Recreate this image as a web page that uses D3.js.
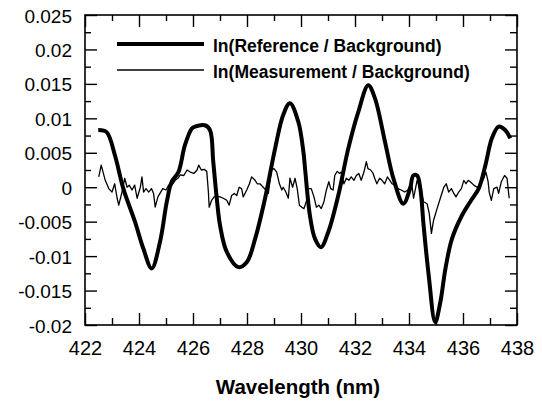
<!DOCTYPE html>
<html>
<head>
<meta charset="utf-8">
<script src="https://cdn.jsdelivr.net/npm/d3@7"></script>
<style>
  body { margin: 0; background: #fff; }
  svg { display: block; font-family: "Liberation Sans", Arial, Helvetica, sans-serif; }
  .tick-label text { font-size: 19px; fill: #000; }
  .x-label text { font-size: 20px; }
</style>
</head>
<body>
<svg id="chart" width="542" height="401"></svg>
<script>
// ln(Reference / Background), thick line
const refWavelength = [422.49, 422.80, 423.11, 423.42, 423.85, 424.16, 424.47, 424.78, 425.03, 425.21,
    425.46, 425.70, 425.95, 426.07, 426.44, 426.63, 426.75, 426.88, 427.00, 427.25,
    427.68, 427.99, 428.30, 428.67, 429.04, 429.34, 429.59, 429.90, 430.09, 430.15,
    430.33, 430.52, 430.74, 431.01, 431.38, 431.75, 432.12, 432.49, 432.74, 433.11,
    433.42, 433.79, 434.04, 434.16, 434.30, 434.42, 434.54, 434.73, 434.97, 435.16,
    435.35, 435.59, 435.96, 436.27, 436.58, 436.83, 437.07, 437.32, 437.56, 437.75];
const refValue = [0.0083, 0.0080, 0.0046, -0.0002, -0.0050, -0.0089, -0.0118, -0.0079, -0.0021, 0.0008,
    0.0022, 0.0061, 0.0085, 0.0088, 0.0090, 0.0083, 0.0037, -0.0016, -0.0055, -0.0094,
    -0.0116, -0.0109, -0.0075, -0.0016, 0.0056, 0.0105, 0.0122, 0.0095, 0.0051, 0.0027,
    -0.0041, -0.0075, -0.0087, -0.0065, -0.0012, 0.0056, 0.0109, 0.0148, 0.0129, 0.0066,
    0.0013, -0.0024, -0.0002, 0.0017, 0.0017, -0.0002, -0.0055, -0.0128, -0.0196, -0.0167,
    -0.0118, -0.0075, -0.0041, -0.0021, -0.0002, 0.0032, 0.0071, 0.0088, 0.0083, 0.0071];

// ln(Measurement / Background), thin line
const measWavelength = [422.51, 422.60, 422.75, 422.88, 423.00, 423.10, 423.19, 423.25, 423.37, 423.47,
    423.56, 423.64, 423.74, 423.84, 423.93, 424.05, 424.11, 424.17, 424.26, 424.36,
    424.46, 424.54, 424.60, 424.70, 424.88, 425.00, 425.10, 425.22, 425.34, 425.44,
    425.53, 425.66, 425.78, 425.90, 426.03, 426.15, 426.21, 426.31, 426.41, 426.51,
    426.57, 426.60, 426.69, 426.78, 426.88, 427.00, 427.12, 427.25, 427.34, 427.43,
    427.53, 427.62, 427.71, 427.80, 427.86, 427.99, 428.09, 428.17, 428.30, 428.38,
    428.48, 428.60, 428.70, 428.79, 428.85, 428.91, 429.00, 429.10, 429.20, 429.29,
    429.34, 429.44, 429.53, 429.59, 429.69, 429.78, 429.86, 429.94, 430.03, 430.11,
    430.21, 430.27, 430.38, 430.48, 430.57, 430.66, 430.75, 430.85, 430.94, 431.03,
    431.10, 431.19, 431.25, 431.34, 431.43, 431.49, 431.59, 431.68, 431.77, 431.86,
    431.96, 432.05, 432.14, 432.23, 432.33, 432.42, 432.48, 432.58, 432.67, 432.73,
    432.81, 432.91, 433.00, 433.10, 433.20, 433.29, 433.37, 433.47, 433.59, 433.71,
    433.84, 433.96, 434.09, 434.17, 434.30, 434.42, 434.54, 434.67, 434.75, 434.83,
    434.91, 435.04, 435.16, 435.29, 435.38, 435.47, 435.57, 435.66, 435.74, 435.84,
    435.94, 436.03, 436.11, 436.19, 436.27, 436.40, 436.52, 436.64, 436.77, 436.85,
    436.93, 436.97, 437.05, 437.14, 437.26, 437.32, 437.42, 437.54, 437.63, 437.71];
const measValue = [0.0015, 0.0032, 0.0010, -0.0002, -0.0007, 0.0005, -0.0016, -0.0026, -0.0007, 0.0013,
    0.0000, 0.0003, -0.0004, 0.0003, -0.0016, 0.0000, 0.0015, -0.0007, -0.0002, -0.0007,
    -0.0002, -0.0009, -0.0029, -0.0014, -0.0002, -0.0004, 0.0003, 0.0003, 0.0010, 0.0013,
    0.0018, 0.0017, 0.0025, 0.0022, 0.0020, 0.0025, 0.0032, 0.0025, 0.0026, 0.0023,
    -0.0007, -0.0029, -0.0019, -0.0014, -0.0013, -0.0014, -0.0016, -0.0019, -0.0026, -0.0012,
    -0.0009, -0.0012, 0.0000, -0.0002, -0.0014, -0.0004, 0.0005, 0.0015, 0.0010, 0.0005,
    0.0005, 0.0000, -0.0004, -0.0009, 0.0010, 0.0025, 0.0027, 0.0022, 0.0005, -0.0004,
    0.0000, -0.0007, -0.0016, 0.0013, 0.0000, 0.0013, -0.0002, -0.0026, -0.0029, -0.0031,
    -0.0019, -0.0002, -0.0002, -0.0014, -0.0029, -0.0026, -0.0031, -0.0021, -0.0004, 0.0008,
    -0.0002, -0.0004, 0.0017, 0.0023, 0.0020, 0.0022, 0.0005, 0.0013, 0.0010, 0.0015,
    0.0010, 0.0017, 0.0020, 0.0010, 0.0022, 0.0037, 0.0027, 0.0025, 0.0020, 0.0013,
    0.0005, 0.0013, 0.0010, 0.0005, 0.0015, 0.0010, 0.0005, 0.0003, -0.0002, -0.0004,
    -0.0007, -0.0004, 0.0008, -0.0016, 0.0010, -0.0002, -0.0021, -0.0024, -0.0038, -0.0067,
    -0.0048, -0.0031, -0.0016, 0.0000, 0.0005, -0.0007, -0.0002, -0.0009, -0.0014, -0.0007,
    -0.0002, 0.0010, 0.0005, 0.0010, 0.0008, 0.0003, 0.0000, 0.0003, 0.0013, 0.0022,
    0.0008, -0.0007, -0.0019, -0.0002, 0.0000, -0.0009, 0.0008, 0.0017, 0.0013, -0.0016];

const xTickValues = [422, 424, 426, 428, 430, 432, 434, 436, 438];
const xMinorTicks = [423, 425, 427, 429, 431, 433, 435, 437];
const yTickValues = [0.025, 0.02, 0.015, 0.01, 0.005, 0, -0.005, -0.01, -0.015, -0.02];
const yMinorTicks = [0.0225, 0.0175, 0.0125, 0.0075, 0.0025, -0.0025, -0.0075, -0.0125, -0.0175];
const seriesNames = ["ln(Reference / Background)", "ln(Measurement / Background)"];

const svg = d3.select("#chart");
const margin = { top: 15, right: 25, bottom: 76, left: 85 };
const width = +svg.attr("width") - margin.left - margin.right;
const height = +svg.attr("height") - margin.top - margin.bottom;

const x = d3.scaleLinear().domain([422, 438]).range([0, width]);
const y = d3.scaleLinear().domain([-0.02, 0.025]).range([height, 0]);

const g = svg.append("g").attr("transform", `translate(${margin.left},${margin.top})`);

// inward ticks on all four sides
function ticks(axis, values, size, transform) {
    const a = g.append("g").attr("transform", transform || null)
        .call(axis.tickValues(values).tickSize(-size).tickFormat(""));
    a.select(".domain").remove();
    a.selectAll("line").attr("stroke", "#000").attr("stroke-width", 1.4);
}
ticks(d3.axisBottom(x), xTickValues, 12, `translate(0,${height})`);
ticks(d3.axisBottom(x), xMinorTicks, 7, `translate(0,${height})`);
ticks(d3.axisTop(x), xTickValues, 12);
ticks(d3.axisTop(x), xMinorTicks, 6);
ticks(d3.axisLeft(y), yTickValues, 12);
ticks(d3.axisLeft(y), yMinorTicks, 6);
ticks(d3.axisRight(y), yTickValues, 12, `translate(${width},0)`);
ticks(d3.axisRight(y), yMinorTicks, 7, `translate(${width},0)`);

// labels
const xl = g.append("g").attr("class", "tick-label x-label")
    .attr("transform", `translate(0,${height})`)
    .call(d3.axisBottom(x).tickValues(xTickValues).tickSize(0).tickPadding(16).tickFormat(d => String(d)));
xl.select(".domain").remove();
xl.selectAll("text").attr("font-family", null);

const yl = g.append("g").attr("class", "tick-label")
    .call(d3.axisLeft(y).tickValues(yTickValues).tickSize(0).tickPadding(13).tickFormat(d => String(d)));
yl.select(".domain").remove();
yl.selectAll("text").attr("font-family", null).attr("dy", "0.37em");

g.append("rect")
    .attr("width", width).attr("height", height)
    .attr("fill", "none").attr("stroke", "#000").attr("stroke-width", 1.6);

// series
const refLine = d3.line()
    .x((d, i) => x(refWavelength[i]))
    .y(d => y(d))
    .curve(d3.curveCatmullRom.alpha(0.5));
const measLine = d3.line()
    .x((d, i) => x(measWavelength[i]))
    .y(d => y(d));

g.append("path").datum(measValue)
    .attr("d", measLine)
    .attr("fill", "none").attr("stroke", "#000").attr("stroke-width", 1.3)
    .attr("stroke-linejoin", "round");

g.append("path").datum(refValue)
    .attr("d", refLine)
    .attr("fill", "none").attr("stroke", "#000").attr("stroke-width", 4)
    .attr("stroke-linejoin", "round");

// legend
const legend = svg.append("g").attr("transform", "translate(117,44)");
const legendItems = legend.selectAll("g")
    .data(seriesNames)
    .enter().append("g")
    .attr("transform", (d, i) => `translate(0,${i * 26})`);
legendItems.append("line")
    .attr("x1", 0).attr("x2", 87)
    .attr("stroke", "#000")
    .attr("stroke-width", (d, i) => i === 0 ? 4 : 1.5);
legendItems.append("text")
    .attr("x", 96).attr("y", 8)
    .attr("font-size", 17.5).attr("font-weight", "bold")
    .text(d => d);

svg.append("text")
    .attr("x", 298).attr("y", 394)
    .attr("text-anchor", "middle")
    .attr("font-size", 20.5).attr("font-weight", "bold")
    .text("Wavelength (nm)");
</script>
</body>
</html>
